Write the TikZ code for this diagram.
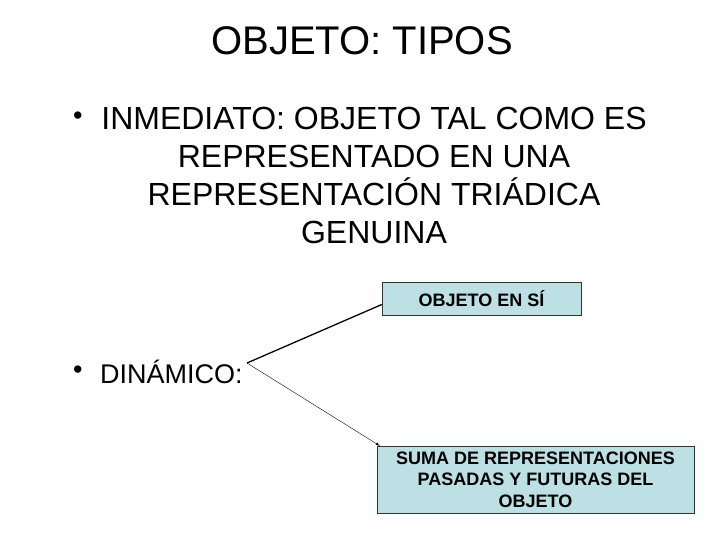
\documentclass[tikz,border=0pt]{standalone}
\usepackage{fontspec}
\setmainfont{Liberation Sans}
\begin{document}
\begin{tikzpicture}[x=1pt,y=-1pt,
  bx/.style={draw=black!80,fill={rgb,255:red,189;green,224;blue,228},inner sep=0pt,font=\bfseries\fontsize{18}{21.5}\selectfont,align=center},
  txt/.style={inner sep=0pt,anchor=west,font=\fontsize{27}{32}\selectfont}]
\useasboundingbox (0,0) rectangle (720,540);
\node[inner sep=0pt,font=\fontsize{40}{44}\selectfont] (title) at (362,41) {OBJETO: TIPOS};
\node[txt] (b1) at (73,118) {•};
\node[inner sep=0pt,anchor=center,align=center,font=\fontsize{32}{38}\selectfont] (t1) at (374,175) {INMEDIATO: OBJETO TAL COMO ES\\REPRESENTADO EN UNA\\REPRESENTACIÓN TRIÁDICA\\GENUINA};
\node[txt] (b2) at (73,372) {•};
\node[txt] (t2) at (100,372) {DINÁMICO:};
\node[bx,minimum width=199,minimum height=33] (o1) at (481.5,298.5) {OBJETO EN SÍ};
\node[bx,minimum width=317,minimum height=67] (o2) at (535.5,479.5) {SUMA DE REPRESENTACIONES\\PASADAS Y FUTURAS DEL\\OBJETO};
\coordinate (p) at (247,363);
\draw[line width=1.3pt] (p) -- ([yshift=-6]o1.west);
\draw[line width=0.4pt,-latex] (p) -- ([xshift=3]o2.north west);
\end{tikzpicture}
\end{document}
